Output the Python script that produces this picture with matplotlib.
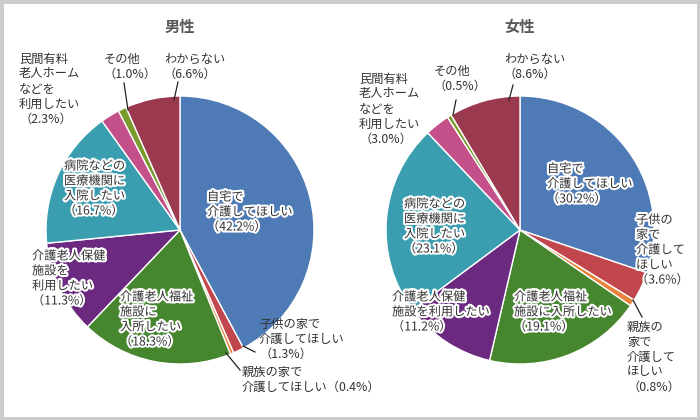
import matplotlib
matplotlib.use("Agg")
import matplotlib.pyplot as plt
import matplotlib.patheffects as pe
from matplotlib.patches import Rectangle

plt.rcParams['font.family'] = ['Noto Sans CJK JP', 'DejaVu Sans']

# categories (clockwise from 12 o'clock)
categories = ["自宅", "子供の家", "親族の家", "介護老人福祉施設", "介護老人保健施設",
              "病院などの医療機関", "民間有料老人ホーム", "その他", "わからない"]
male_values = [42.2, 1.3, 0.4, 18.3, 11.3, 16.7, 2.3, 1.0, 6.6]
female_values = [30.2, 3.6, 0.8, 19.1, 11.2, 23.1, 3.0, 0.5, 8.6]

male_labels = [
    "自宅で\n介護してほしい\n（42.2%）",
    "子供の家で\n介護してほしい\n（1.3%）",
    "親族の家で\n介護してほしい（0.4%）",
    "介護老人福祉\n施設に\n入所したい\n（18.3%）",
    "介護老人保健\n施設を\n利用したい\n（11.3%）",
    "病院などの\n医療機関に\n入院したい\n（16.7%）",
    "民間有料\n老人ホーム\nなどを\n利用したい\n（2.3%）",
    "その他\n（1.0%）",
    "わからない\n（6.6%）",
]
female_labels = [
    "自宅で\n介護してほしい\n（30.2%）",
    "子供の\n家で\n介護して\nほしい\n（3.6%）",
    "親族の\n家で\n介護して\nほしい\n（0.8%）",
    "介護老人福祉\n施設に入所したい\n（19.1%）",
    "介護老人保健\n施設を利用したい\n（11.2%）",
    "病院などの\n医療機関に\n入院したい\n（23.1%）",
    "民間有料\n老人ホーム\nなどを\n利用したい\n（3.0%）",
    "その他\n（0.5%）",
    "わからない\n（8.6%）",
]

colors = ["#4E7AB6", "#C2464D", "#E8823A", "#46862F", "#6B2A80",
          "#3A9EB0", "#C4508A", "#7A9A2C", "#9B3A4F"]

W, H = 700, 420
LINE = 15  # px between label lines

# label layout in pixels: (left x, first line center y, outlined?)
male_pos = [(207, 197, True), (259, 324, False), (242, 372, False),
            (120, 297, True), (32, 256, True), (64, 166, True),
            (19, 59, False), (104, 59, False), (164, 59, False)]
female_pos = [(547, 169, True), (636, 220, True), (627, 327, False),
              (514, 297, True), (392, 297, True), (404, 204, True),
              (359, 79, False), (434, 71, False), (504, 59, False)]

# leader lines in pixels
male_leaders = [((243, 346), (255, 352)), ((226, 353), (240, 370)),
                ((128, 110), (124, 83)), ((174, 100), (178, 82))]
female_leaders = [((633, 300), (642, 317)), ((453, 115), (456, 100)),
                  ((509, 100), (513, 85))]

fig = plt.figure(figsize=(7, 4.2), dpi=100)
ax = fig.add_axes([0, 0, 1, 1])


def draw(values, labels, pos, leaders, cx, title):
    ax.pie(values, colors=colors, startangle=90, counterclock=False,
           center=(cx, H - 230), radius=134, frame=True,
           wedgeprops=dict(edgecolor="white", linewidth=1))
    ax.text(cx, H - 27, title, ha="center", va="center", fontsize=11,
            fontweight="bold", color="#595959")
    for lab, (x, y, outl) in zip(labels, pos):
        for i, line in enumerate(lab.split("\n")):
            t = ax.text(x, H - (y + i * LINE), line, ha="left", va="center",
                        fontsize=8.8, color="#333333")
            if outl:
                t.set_path_effects([pe.withStroke(linewidth=3, foreground="white")])
    for (x0, y0), (x1, y1) in leaders:
        ax.plot([x0, x1], [H - y0, H - y1], color="#222222", lw=0.9)


draw(male_values, male_labels, male_pos, male_leaders, 180, "男性")
draw(female_values, female_labels, female_pos, female_leaders, 520, "女性")

ax.set_xlim(0, W)
ax.set_ylim(0, H)
ax.set_aspect("auto")
ax.axis("off")

fig.patches.append(Rectangle((0, 0), 1, 1, transform=fig.transFigure,
                             fill=False, edgecolor="#cccccc", linewidth=5))

fig.savefig("out.png", dpi=100, facecolor="white")
